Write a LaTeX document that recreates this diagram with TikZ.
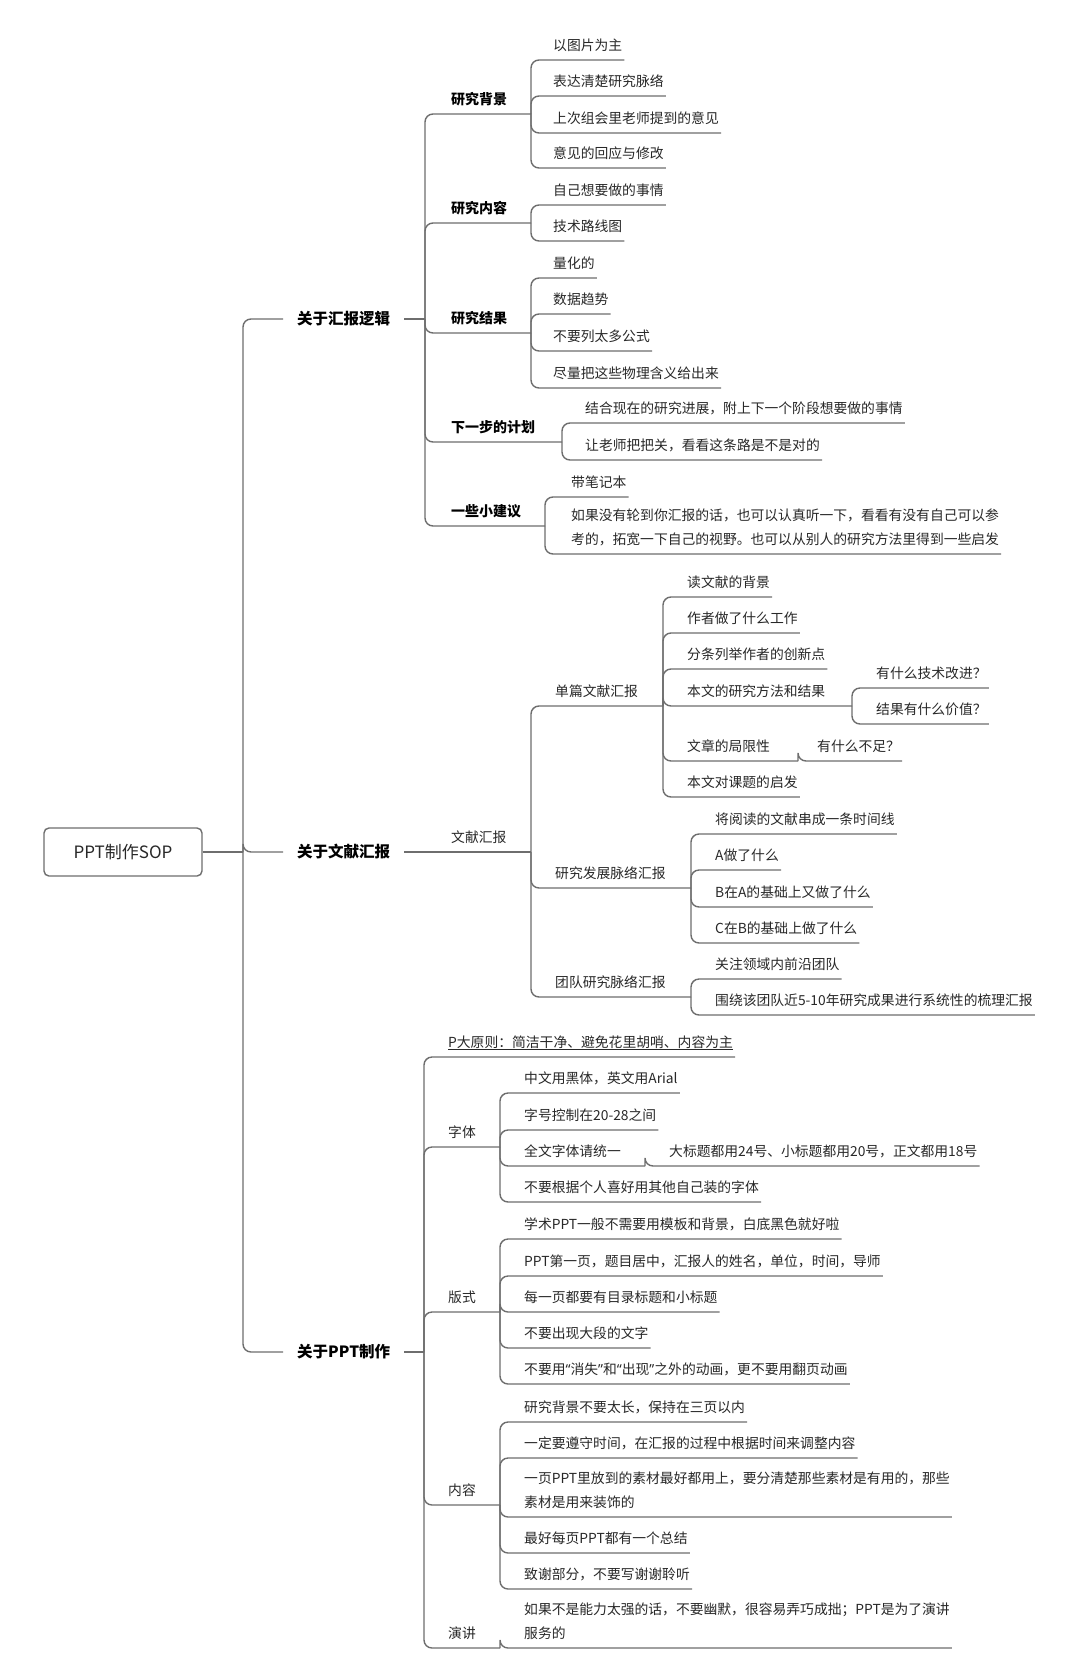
\documentclass[tikz,border=0pt]{standalone}
\usepackage{fontspec}
\setmainfont{Noto Sans CJK SC}
\newfontfamily\QuoteFont{Noto Sans}
\usepackage{xcolor}
\definecolor{Col1}{RGB}{110,110,110}
\definecolor{Col2}{RGB}{40,40,40}
\usepackage{tikz}
\tikzstyle{Root}=[draw=Col1,rounded corners=5pt,line width=1.4pt,
minimum width=158pt,minimum height=48pt,text=Col2,
font=\fontsize{17}{20}\selectfont]
\tikzstyle{Topic}=[anchor=west,inner xsep=14pt,inner ysep=2pt,text=black,
font=\bfseries\fontsize{15.5}{18}\selectfont]
\tikzstyle{Sub}=[anchor=south west,inner xsep=2pt,inner ysep=4pt,
text depth=5.7pt,align=left,text=Col2,font=\fontsize{13.8}{23.5}\selectfont]
\tikzstyle{SubB}=[Sub,text=black,font=\bfseries\fontsize{14}{23.5}\selectfont]
\tikzstyle{Edge}=[draw=Col1,line width=1.4pt,rounded corners=8pt]
\newcommand{\LQ}{{\QuoteFont “}}
\newcommand{\RQ}{{\QuoteFont ”}}

\begin{document}
\begin{tikzpicture}[x=1pt,y=-1pt]
        \fill[white](0,0)rectangle(1080,1675);
        \useasboundingbox(0,0)rectangle(1080,1675);
        % root and first level
        \node[Root](rt)at(123,852){PPT制作SOP};
        \coordinate(rt-j)at(243,852);
        \node[Topic](hb)at(283,319){关于汇报逻辑};
        \node[Topic](wx)at(283,852){关于文献汇报};
        \node[Topic](zz)at(283,1352){关于PPT制作};
        \draw[Edge](rt.east)--(rt-j);
        \draw[Edge](rt-j)|-(hb.west);
        \draw[Edge](rt-j)|-(wx.west);
        \draw[Edge](rt-j)|-(zz.west);
        % 关于汇报逻辑
        \coordinate(hb-j)at(425,319);
        \node[SubB](a1)at(449,114){研究背景};
        \node[SubB](a2)at(449,223){研究内容};
        \node[SubB](a3)at(449,333){研究结果};
        \node[SubB](a4)at(449,442){下一步的计划};
        \node[SubB](a5)at(449,526){一些小建议};
        \coordinate(a1-j)at(531,114);
        \coordinate(a2-j)at(531,223);
        \coordinate(a3-j)at(531,333);
        \coordinate(a4-j)at(562,442);
        \coordinate(a5-j)at(545,526);
        \node[Sub](a11)at(551,60){以图片为主};
        \node[Sub](a12)at(551,96){表达清楚研究脉络};
        \node[Sub](a13)at(551,133){上次组会里老师提到的意见};
        \node[Sub](a14)at(551,168){意见的回应与修改};
        \node[Sub](a21)at(551,205){自己想要做的事情};
        \node[Sub](a22)at(551,241){技术路线图};
        \node[Sub](a31)at(551,278){量化的};
        \node[Sub](a32)at(551,314){数据趋势};
        \node[Sub](a33)at(551,351){不要列太多公式};
        \node[Sub](a34)at(551,388){尽量把这些物理含义给出来};
        \node[Sub](a41)at(583,423){结合现在的研究进展，附上下一个阶段想要做的事情};
        \node[Sub](a42)at(583,460){让老师把把关，看看这条路是不是对的};
        \node[Sub](a51)at(569,497){带笔记本};
        \node[Sub](a52)at(569,554){如果没有轮到你汇报的话，也可以认真听一下，看看有没有自己可以参\\
            考的，拓宽一下自己的视野。也可以从别人的研究方法里得到一些启发};
        \draw[Edge](hb.east)--(hb-j);
        \draw[Edge](hb-j)|-(a1-j);
        \draw[Edge](hb-j)|-(a2-j);
        \draw[Edge](hb-j)|-(a3-j);
        \draw[Edge](hb-j)|-(a4-j);
        \draw[Edge](hb-j)|-(a5-j);
        \draw[Edge](a1-j)|-(a11.south east);
        \draw[Edge](a1-j)|-(a12.south east);
        \draw[Edge](a1-j)|-(a13.south east);
        \draw[Edge](a1-j)|-(a14.south east);
        \draw[Edge](a2-j)|-(a21.south east);
        \draw[Edge](a2-j)|-(a22.south east);
        \draw[Edge](a3-j)|-(a31.south east);
        \draw[Edge](a3-j)|-(a32.south east);
        \draw[Edge](a3-j)|-(a33.south east);
        \draw[Edge](a3-j)|-(a34.south east);
        \draw[Edge](a4-j)|-(a41.south east);
        \draw[Edge](a4-j)|-(a42.south east);
        \draw[Edge](a5-j)|-(a51.south east);
        \draw[Edge](a5-j)|-(a52.south east);
        % 关于文献汇报
        \node[Sub](b0)at(449,852){文献汇报};
        \coordinate(b0-j)at(531,852);
        \node[Sub](b1)at(553,706){单篇文献汇报};
        \node[Sub](b2)at(553,888){研究发展脉络汇报};
        \node[Sub](b3)at(553,997){团队研究脉络汇报};
        \coordinate(b1-j)at(663,706);
        \coordinate(b2-j)at(691,888);
        \coordinate(b3-j)at(691,997);
        \node[Sub](b11)at(685,597){读文献的背景};
        \node[Sub](b12)at(685,633){作者做了什么工作};
        \node[Sub](b13)at(685,669){分条列举作者的创新点};
        \node[Sub](b14)at(685,706){本文的研究方法和结果};
        \node[Sub](b15)at(685,761){文章的局限性};
        \node[Sub](b16)at(685,797){本文对课题的启发};
        \coordinate(b14-j)at(852,706);
        \coordinate(b15-j)at(798,761);
        \node[Sub](b141)at(874,688){有什么技术改进？};
        \node[Sub](b142)at(874,724){结果有什么价值？};
        \node[Sub](b151)at(815,761){有什么不足？};
        \node[Sub](b21)at(713,834){将阅读的文献串成一条时间线};
        \node[Sub](b22)at(713,870){A做了什么};
        \node[Sub](b23)at(713,907){B在A的基础上又做了什么};
        \node[Sub](b24)at(713,943){C在B的基础上做了什么};
        \node[Sub](b31)at(713,979){关注领域内前沿团队};
        \node[Sub](b32)at(713,1015){围绕该团队近5-10年研究成果进行系统性的梳理汇报};
        \draw[Edge](wx.east)--(b0-j);
        \draw[Edge](b0-j)|-(b1-j);
        \draw[Edge](b0-j)|-(b2-j);
        \draw[Edge](b0-j)|-(b3-j);
        \draw[Edge](b1-j)|-(b11.south east);
        \draw[Edge](b1-j)|-(b12.south east);
        \draw[Edge](b1-j)|-(b13.south east);
        \draw[Edge](b1-j)|-(b14-j);
        \draw[Edge](b1-j)|-(b15-j);
        \draw[Edge](b1-j)|-(b16.south east);
        \draw[Edge](b14-j)|-(b141.south east);
        \draw[Edge](b14-j)|-(b142.south east);
        \draw[Edge](b15-j)|-(b151.south east);
        \draw[Edge](b2-j)|-(b21.south east);
        \draw[Edge](b2-j)|-(b22.south east);
        \draw[Edge](b2-j)|-(b23.south east);
        \draw[Edge](b2-j)|-(b24.south east);
        \draw[Edge](b3-j)|-(b31.south east);
        \draw[Edge](b3-j)|-(b32.south east);
        % 关于PPT制作
        \coordinate(zz-j)at(424,1352);
        \node[Sub](c0)at(446,1057){\underline{P大原则：简洁干净、避免花里胡哨、内容为主}};
        \node[Sub](c1)at(446,1147){字体};
        \node[Sub](c2)at(446,1312){版式};
        \node[Sub](c3)at(446,1505){内容};
        \node[Sub](c4)at(446,1648){演讲};
        \coordinate(c1-j)at(500,1147);
        \coordinate(c2-j)at(500,1312);
        \coordinate(c3-j)at(500,1505);
        \coordinate(c4-j)at(500,1648);
        \node[Sub](c11)at(522,1093){中文用黑体，英文用Arial};
        \node[Sub](c12)at(522,1130){字号控制在20-28之间};
        \node[Sub](c13)at(522,1166){全文字体请统一};
        \node[Sub](c14)at(522,1202){不要根据个人喜好用其他自己装的字体};
        \coordinate(c13-j)at(645,1166);
        \node[Sub](c131)at(667,1166){大标题都用24号、小标题都用20号，正文都用18号};
        \node[Sub](c21)at(522,1239){学术PPT一般不需要用模板和背景，白底黑色就好啦};
        \node[Sub](c22)at(522,1276){PPT第一页，题目居中，汇报人的姓名，单位，时间，导师};
        \node[Sub](c23)at(522,1312){每一页都要有目录标题和小标题};
        \node[Sub](c24)at(522,1348){不要出现大段的文字};
        \node[Sub](c25)at(522,1384){不要用\LQ 消失\RQ 和\LQ 出现\RQ 之外的动画，更不要用翻页动画};
        \node[Sub](c31)at(522,1422){研究背景不要太长，保持在三页以内};
        \node[Sub](c32)at(522,1458){一定要遵守时间，在汇报的过程中根据时间来调整内容};
        \node[Sub](c33)at(522,1517){一页PPT里放到的素材最好都用上，要分清楚那些素材是有用的，那些\\
            素材是用来装饰的};
        \node[Sub](c34)at(522,1553){最好每页PPT都有一个总结};
        \node[Sub](c35)at(522,1589){致谢部分，不要写谢谢聆听};
        \node[Sub](c41)at(522,1648){如果不是能力太强的话，不要幽默，很容易弄巧成拙；PPT是为了演讲\\
            服务的};
        \draw[Edge](zz.east)--(zz-j);
        \draw[Edge](zz-j)|-(c0.south east);
        \draw[Edge](zz-j)|-(c1-j);
        \draw[Edge](zz-j)|-(c2-j);
        \draw[Edge](zz-j)|-(c3-j);
        \draw[Edge](zz-j)|-(c4-j);
        \draw[Edge](c1-j)|-(c11.south east);
        \draw[Edge](c1-j)|-(c12.south east);
        \draw[Edge](c1-j)|-(c13-j);
        \draw[Edge](c1-j)|-(c14.south east);
        \draw[Edge](c13-j)|-(c131.south east);
        \draw[Edge](c2-j)|-(c21.south east);
        \draw[Edge](c2-j)|-(c22.south east);
        \draw[Edge](c2-j)|-(c23.south east);
        \draw[Edge](c2-j)|-(c24.south east);
        \draw[Edge](c2-j)|-(c25.south east);
        \draw[Edge](c3-j)|-(c31.south east);
        \draw[Edge](c3-j)|-(c32.south east);
        \draw[Edge](c3-j)|-(c33.south east);
        \draw[Edge](c3-j)|-(c34.south east);
        \draw[Edge](c3-j)|-(c35.south east);
        \draw[Edge](c4-j)|-(c41.south east);
    \end{tikzpicture}
\end{document}
